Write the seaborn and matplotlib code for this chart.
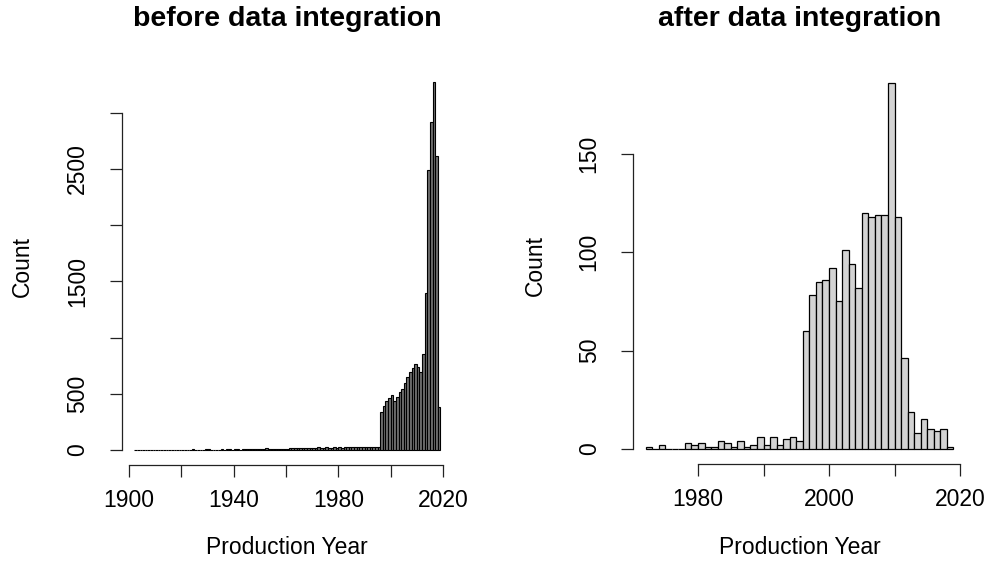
import numpy as np
import pandas as pd
import matplotlib
matplotlib.use("Agg")
import matplotlib.pyplot as plt
import seaborn as sns

# ---------------- data ----------------
# before data integration: yearly counts 1902..2018
before_years = list(range(1902, 2019))
before_counts = [
    # 1902-1919
    1, 1, 1, 1, 1, 1, 1, 1, 1, 1, 2, 1, 1, 2, 1, 2, 2, 1,
    # 1920-1939
    2, 3, 2, 3, 5, 4, 3, 2, 4, 6, 5, 3, 4, 3, 2, 5, 4, 6, 5, 4,
    # 1940-1959
    5, 6, 4, 5, 7, 8, 6, 8, 10, 9, 8, 10, 18, 12, 9, 11, 12, 10, 13, 8,
    # 1960-1979
    12, 14, 16, 15, 18, 17, 20, 19, 22, 18, 21, 20, 23, 19, 22, 24, 20, 18, 25, 22,
    # 1980-1995
    24, 22, 26, 28, 30, 27, 25, 30, 28, 26, 29, 31, 27, 25, 30, 28,
    # 1996-2018
    340, 390, 435, 465, 485, 440, 470, 515, 540, 600, 650, 690, 730, 765, 740, 695,
    855, 1400, 2490, 2920, 3270, 2615, 380,
]

# after data integration: yearly counts 1972..2018
after_years = list(range(1972, 2019))
after_counts = [
    1, 0, 2, 0, 0, 0, 3, 2,          # 1972-1979
    3, 1, 1, 4, 3, 1, 4, 1, 2, 6,    # 1980-1989
    2, 6, 2, 5, 6, 4,                # 1990-1995
    60, 78, 85, 86, 92, 75, 101, 94, 82, 120,   # 1996-2005
    118, 119, 119, 186, 118, 46, 19, 8, 15, 10, # 2006-2015
    9, 10, 1,                        # 2016-2018
]

before_xticks = [1900, 1920, 1940, 1960, 1980, 2000, 2020]
before_xlabels = ["1900", "", "1940", "", "1980", "", "2020"]
before_yticks = [0, 500, 1000, 1500, 2000, 2500, 3000]
before_ylabels = ["0", "500", "", "1500", "", "2500", ""]

after_xticks = [1980, 1990, 2000, 2010, 2020]
after_xlabels = ["1980", "", "2000", "", "2020"]
after_yticks = [0, 50, 100, 150]
after_ylabels = ["0", "50", "100", "150"]

titles = ["before data integration", "after data integration"]

# ---------------- style ----------------
sns.set_style("white")
plt.rcParams["font.family"] = ["Liberation Sans", "DejaVu Sans"]
plt.rcParams["text.color"] = "black"
plt.rcParams["axes.labelcolor"] = "black"

W, H = 990, 569
fig = plt.figure(figsize=(W / 100, H / 100), dpi=100)


def px_axes(x0, y0, x1, y1):
    return fig.add_axes([x0 / W, 1 - y1 / H, (x1 - x0) / W, (y1 - y0) / H])


ax1 = px_axes(122, 67.7, 452.7, 464.7)
ax2 = px_axes(633.3, 68.0, 965.8, 463.7)

df_b = pd.DataFrame({"year": np.array(before_years, dtype=float) + 0.5,
                     "n": np.array(before_counts, dtype=float)})
df_a = pd.DataFrame({"year": np.array(after_years, dtype=float) + 0.5,
                     "n": np.array(after_counts, dtype=float)})

sns.histplot(data=df_b, x="year", weights="n", binwidth=1,
             binrange=(before_years[0], before_years[-1] + 1),
             color="#707070", edgecolor="black", linewidth=0.8, alpha=1,
             ax=ax1)
sns.histplot(data=df_a, x="year", weights="n", binwidth=1,
             binrange=(after_years[0], after_years[-1] + 1),
             color="#d3d3d3", edgecolor="black", linewidth=0.9, alpha=1,
             ax=ax2)


def r_style(ax, xlim, ylim, xt, xl, yt, yl, title):
    ax.set_xlim(*xlim)
    ax.set_ylim(*ylim)
    for s in ["top", "right"]:
        ax.spines[s].set_visible(False)
    for s in ["left", "bottom"]:
        ax.spines[s].set_color("#222222")
        ax.spines[s].set_linewidth(0.9)
    ax.spines["bottom"].set_bounds(xt[0], xt[-1])
    ax.spines["left"].set_bounds(yt[0], yt[-1])
    ax.set_xticks(xt)
    ax.set_xticklabels(xl)
    ax.set_yticks(yt)
    ax.set_yticklabels(yl, rotation=90, va="center")
    ax.tick_params(axis="both", direction="out", length=8.5, width=0.9,
                   color="#222222", labelsize=16.5, labelcolor="black")
    ax.tick_params(axis="x", bottom=True, pad=9)
    ax.tick_params(axis="y", left=True, pad=15)
    ax.set_xlabel("Production Year", fontsize=16.5, color="black")
    ax.set_ylabel("Count", fontsize=16.5, color="black")
    ax.xaxis.label.set_va("center")
    ax.yaxis.label.set_va("center")
    ax.grid(False)
    pos = ax.get_position()
    ty = 1.0 + ((H - 19) - pos.y1 * H) / (pos.height * H)
    ax.set_title(title, fontsize=20.5, fontweight="bold", pad=0,
                 color="black", y=ty, verticalalignment="center")


r_style(ax1, (1897.3, 2023.7), (-130.8, 3400.8),
        before_xticks, before_xlabels, before_yticks, before_ylabels, titles[0])
r_style(ax2, (1970.12, 2020.88), (-7.44, 193.44),
        after_xticks, after_xlabels, after_yticks, after_ylabels, titles[1])

# label positions (axes-fraction coords)
ax1.xaxis.set_label_coords(0.5, (464.7 - 548) / 397.0)
ax1.yaxis.set_label_coords((22 - 122) / 330.7, 0.5)
ax2.xaxis.set_label_coords(0.5, (463.7 - 548) / 395.7)
ax2.yaxis.set_label_coords((535 - 633.3) / 332.5, 0.5)

fig.savefig("out.png", dpi=100, facecolor="white")
